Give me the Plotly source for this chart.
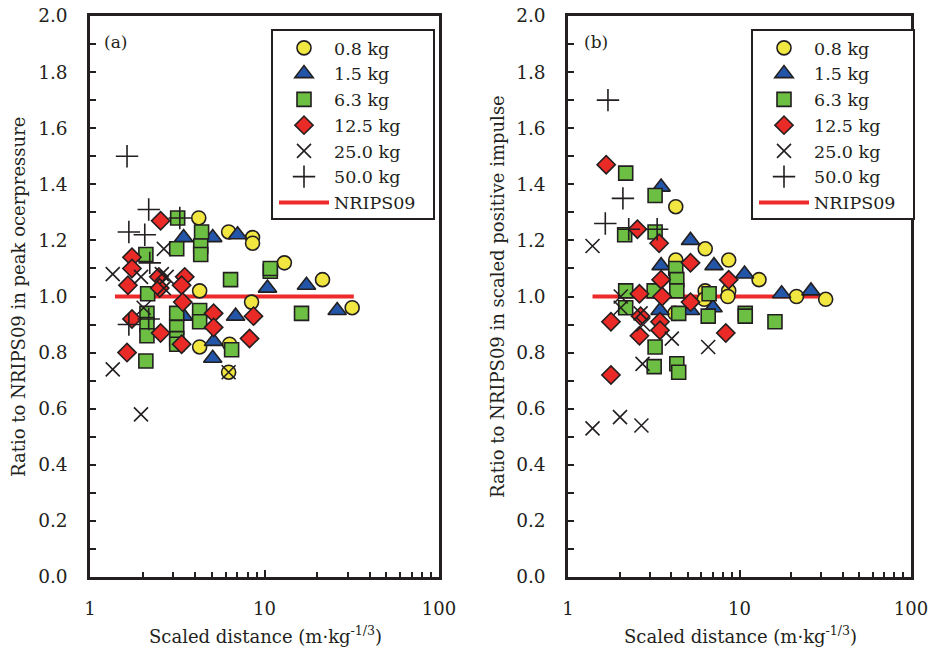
import plotly.graph_objects as go

# ---- panel (a): peak overpressure ratio vs scaled distance ----
a_08_d = [4.20, 6.23, 8.54, 8.54, 13.0, 21.5, 31.8, 8.43, 4.25, 4.25, 6.31, 6.23]
a_08_r = [1.28, 1.23, 1.21, 1.19, 1.12, 1.06, 0.96, 0.98, 1.02, 0.82, 0.83, 0.73]
a_15_d = [3.44, 5.05, 7.01, 10.4, 17.4, 26.1, 6.83, 5.11, 5.05, 3.44]
a_15_r = [1.21, 1.21, 1.22, 1.03, 1.04, 0.95, 0.93, 0.84, 0.78, 0.93]
a_63_d = [3.18, 4.36, 3.14, 4.31, 4.31, 2.09, 6.39, 10.8, 10.8, 2.14, 3.14,
          4.25, 4.25, 3.14, 2.12, 2.12, 2.12, 3.14, 3.14, 6.48, 2.09, 16.3]
a_63_r = [1.28, 1.23, 1.17, 1.18, 1.15, 1.15, 1.06, 1.09, 1.10, 1.01, 0.94,
          0.95, 0.91, 0.89, 0.94, 0.90, 0.86, 0.85, 0.83, 0.81, 0.77, 0.94]
a_125_d = [2.54, 1.74, 1.74, 1.65, 2.48, 3.49, 3.35, 2.51, 3.40, 5.11, 5.11,
           8.65, 8.21, 2.54, 3.35, 1.74, 1.63]
a_125_r = [1.27, 1.14, 1.10, 1.04, 1.07, 1.07, 1.04, 1.03, 0.98, 0.94, 0.89,
           0.93, 0.85, 0.87, 0.83, 0.92, 0.80]
a_250_d = [1.35, 2.65, 1.96, 2.58, 2.75, 2.65, 2.03, 1.35, 1.96, 6.23]
a_250_r = [1.08, 1.17, 1.07, 1.08, 1.07, 1.03, 0.96, 0.74, 0.58, 0.73]
a_500_d = [1.63, 2.17, 1.67, 2.06, 3.27, 2.20, 2.17, 1.67]
a_500_r = [1.50, 1.31, 1.23, 1.22, 1.28, 1.12, 0.92, 0.90]

# ---- panel (b): scaled positive impulse ratio vs scaled distance ----
b_08_d = [4.25, 6.31, 4.25, 8.65, 13.0, 6.31, 8.65, 8.55, 21.5, 31.8, 4.20, 6.23]
b_08_r = [1.32, 1.17, 1.13, 1.13, 1.06, 1.02, 1.02, 1.00, 1.00, 0.99, 0.94, 0.99]
b_15_d = [3.49, 5.18, 7.10, 10.7, 3.49, 17.6, 26.1, 5.18, 7.01, 3.44]
b_15_r = [1.39, 1.20, 1.11, 1.08, 1.11, 1.01, 1.02, 0.95, 0.96, 0.95]
b_63_d = [2.17, 3.22, 2.14, 3.22, 4.25, 4.31, 4.31, 2.17, 3.18, 2.17, 4.42,
          6.65, 6.57, 10.8, 10.8, 16.1, 3.22, 3.18, 4.31, 4.42]
b_63_r = [1.44, 1.36, 1.22, 1.23, 1.10, 1.06, 1.02, 1.02, 1.02, 0.96, 0.94,
          1.01, 0.93, 0.94, 0.93, 0.91, 0.82, 0.75, 0.76, 0.73]
b_125_d = [1.67, 2.54, 3.40, 5.18, 3.49, 8.65, 5.18, 2.61, 3.54, 1.78, 2.65,
           3.44, 3.44, 2.61, 8.32, 1.78]
b_125_r = [1.47, 1.24, 1.19, 1.12, 1.06, 1.06, 0.98, 1.01, 1.00, 0.91, 0.93,
           0.91, 0.88, 0.86, 0.87, 0.72]
b_250_d = [1.39, 2.03, 2.03, 2.65, 2.75, 2.72, 4.03, 6.57, 1.39, 2.01, 2.68]
b_250_r = [1.18, 1.00, 0.96, 0.94, 0.90, 0.76, 0.85, 0.82, 0.53, 0.57, 0.54]
b_500_d = [1.71, 2.09, 1.65, 2.26, 3.31]
b_500_r = [1.70, 1.35, 1.26, 1.24, 1.24]

# NRIPS09 reference (ratio of unity)
nrips_d = [1.39, 32.5]
nrips_r = [1.0, 1.0]

charge_labels = ["0.8 kg", "1.5 kg", "6.3 kg", "12.5 kg", "25.0 kg", "50.0 kg"]
x_ticks = [1, 10, 100]
x_tick_text = ["1", "10", "100"]

FONT = "DejaVu Serif"
INK = "#231f20"

styles = [
    dict(symbol="circle", size=14, color="#f2e640", line=dict(color=INK, width=1.6)),
    dict(symbol="triangle-up", size=16, color="#2356a8", line=dict(color=INK, width=1.6)),
    dict(symbol="square", size=14, color="#6cbf42", line=dict(color=INK, width=1.6)),
    dict(symbol="diamond", size=14, color="#ea2a26", line=dict(color=INK, width=1.6)),
    dict(symbol="x-thin-open", size=14, color=INK, line=dict(color=INK, width=1.6)),
    dict(symbol="cross-thin-open", size=16, color=INK, line=dict(color=INK, width=1.6)),
]

panels = [
    dict(xa="x", ya="y", leg="legend",
         data=[(a_08_d, a_08_r), (a_15_d, a_15_r), (a_63_d, a_63_r),
               (a_125_d, a_125_r), (a_250_d, a_250_r), (a_500_d, a_500_r)]),
    dict(xa="x2", ya="y2", leg="legend2",
         data=[(b_08_d, b_08_r), (b_15_d, b_15_r), (b_63_d, b_63_r),
               (b_125_d, b_125_r), (b_250_d, b_250_r), (b_500_d, b_500_r)]),
]

fig = go.Figure()
for p in panels:
    fig.add_trace(go.Scatter(
        x=nrips_d, y=nrips_r, mode="lines", name="NRIPS09",
        line=dict(color="#ee2a2a", width=4), xaxis=p["xa"], yaxis=p["ya"],
        legend=p["leg"], legendrank=7, hoverinfo="skip"))
    for i, ((d, r), lab, st) in enumerate(zip(p["data"], charge_labels, styles)):
        fig.add_trace(go.Scatter(
            x=d, y=r, mode="markers", name=lab, marker=st,
            xaxis=p["xa"], yaxis=p["ya"], legend=p["leg"], legendrank=i + 1))

W, H = 930, 655
ydom = [1 - 577 / H, 1 - 16 / H]
xdom_a = [90 / W, 439 / W]
xdom_b = [568 / W, 911 / W]

xaxis_common = dict(
    type="log", range=[0, 2], tickmode="array", tickvals=x_ticks, ticktext=x_tick_text,
    ticks="inside", ticklen=7, tickwidth=1.5, tickcolor=INK,
    minor=dict(tickmode="array", tickvals=[2, 3, 4, 5, 6, 7, 8, 9, 20, 30, 40, 50, 60, 70, 80, 90],
               ticks="inside", ticklen=5, tickwidth=1.5, tickcolor=INK, showgrid=False),
    showline=True, linecolor=INK, linewidth=2.5, mirror=True,
    showgrid=False, zeroline=False, ticklabelstandoff=14, automargin=False,
    ticklabeloverflow="allow",
    tickfont=dict(family=FONT, size=18, color=INK),
)
yaxis_common = dict(
    range=[0, 2], tickmode="linear", tick0=0, dtick=0.2, tickformat=".1f",
    ticks="inside", ticklen=6, tickwidth=1.5, tickcolor=INK,
    minor=dict(dtick=0.1, ticks="inside", ticklen=6, tickwidth=1.5, tickcolor=INK, showgrid=False),
    showline=True, linecolor=INK, linewidth=2.5, mirror=True,
    showgrid=False, zeroline=False, ticklabelstandoff=16, automargin=False,
    ticklabeloverflow="allow",
    tickfont=dict(family=FONT, size=18.5, color=INK),
)

# legend entries sit on top of a framed white box drawn as a shape
legend_common = dict(
    bgcolor="rgba(0,0,0,0)", borderwidth=0,
    font=dict(family=FONT, size=17.5, color=INK),
    yanchor="top", xanchor="left", y=1 - 30 / H, traceorder="normal",
    itemsizing="trace", tracegroupgap=0, itemwidth=50,
)

fig.update_layout(
    width=W, height=H, margin=dict(l=0, r=0, t=0, b=0, pad=0, autoexpand=False),
    paper_bgcolor="white", plot_bgcolor="white",
    showlegend=True,
    xaxis=dict(domain=xdom_a, anchor="y", **xaxis_common),
    yaxis=dict(domain=ydom, anchor="x", **yaxis_common),
    xaxis2=dict(domain=xdom_b, anchor="y2", **xaxis_common),
    yaxis2=dict(domain=ydom, anchor="x2", **yaxis_common),
    legend=dict(x=274 / W, **legend_common),
    legend2=dict(x=754 / W, **legend_common),
    font=dict(family=FONT, color=INK),
)

for x0, x1 in [(272, 434), (752, 914)]:
    fig.add_shape(type="rect", xref="paper", yref="paper", layer="above",
                  x0=x0 / W, x1=x1 / W, y0=1 - 219 / H, y1=1 - 30 / H,
                  fillcolor="white", line=dict(color=INK, width=2))

ann = [
    dict(text="(a)", x=102 / W, y=1 - 42 / H, xanchor="left", yanchor="middle", size=17),
    dict(text="(b)", x=582 / W, y=1 - 42 / H, xanchor="left", yanchor="middle", size=17),
    dict(text="Scaled distance (m·kg<sup>-1/3</sup>)", x=265 / W, y=1 - 635 / H,
         xanchor="center", yanchor="middle", size=18),
    dict(text="Scaled distance (m·kg<sup>-1/3</sup>)", x=740 / W, y=1 - 635 / H,
         xanchor="center", yanchor="middle", size=18),
    dict(text="Ratio to NRIPS09 in peak ocerpressure", x=18 / W, y=1 - 297 / H,
         xanchor="center", yanchor="middle", textangle=-90, size=18),
    dict(text="Ratio to NRIPS09 in scaled positive impulse", x=497 / W, y=1 - 297 / H,
         xanchor="center", yanchor="middle", textangle=-90, size=18),
]
for a in ann:
    size = a.pop("size")
    fig.add_annotation(xref="paper", yref="paper", showarrow=False,
                       font=dict(family=FONT, size=size, color=INK), **a)

fig.write_html("out.html")
